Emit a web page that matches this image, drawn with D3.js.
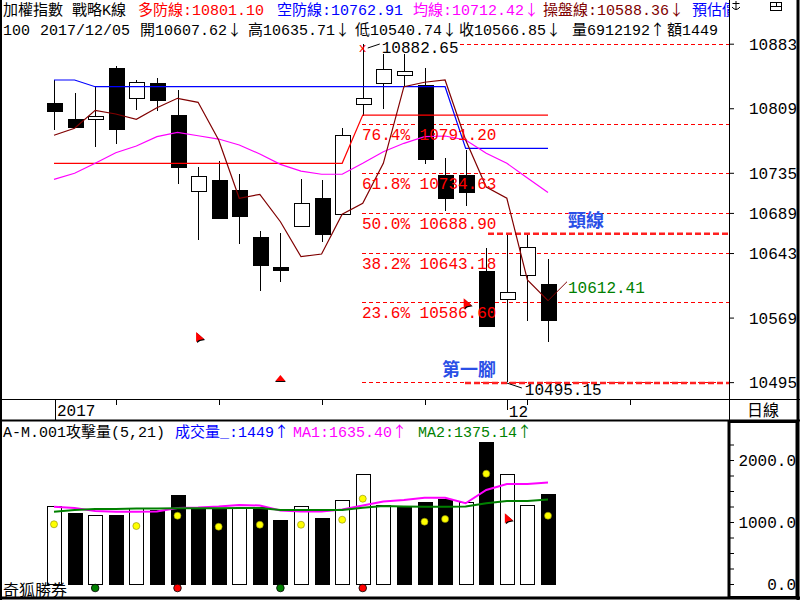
<!DOCTYPE html>
<html><head><meta charset="utf-8">
<script src="https://cdn.jsdelivr.net/npm/d3@7"></script>
<style>
body{margin:0;background:#fff}
svg{display:block}
text{font-family:"Liberation Mono","Noto Sans CJK TC",monospace;font-size:16px}
.hd{font-size:15px}
</style></head><body><div id="chart"></div>
<script>
// K bars, 2017/11/01 .. 2017/12/05
var opens =[10814.7,10796.7,10797.0,10855.1,10820.4,10837.6,10801.3,10713.8,10726.7,10715.3,10661.4,10627.3,10673.2,10705.8,10687.4,10814.7,10837.6,10847.9,10835.3,10732.8,10732.8,10622.8,10591.1,10617.8,10607.62]
var highs =[10841.4,10826.1,10833.7,10857.4,10841.4,10843.7,10829.9,10741.6,10748.5,10733.6,10668.3,10665.6,10727.9,10726.7,10786.4,10882.65,10871.2,10871.2,10854.8,10752.0,10761.1,10648.4,10663.7,10663.7,10635.71]
var lows  =[10784.1,10787.5,10764.9,10768.4,10807.3,10805.5,10721.8,10658.3,10683.5,10653.7,10599.8,10609.4,10673.2,10655.3,10687.4,10799.8,10808.5,10833.7,10745.4,10691.5,10697.3,10559.7,10495.15,10565.5,10540.74]
var closes=[10805.0,10787.8,10799.8,10785.5,10838.7,10817.6,10742.0,10731.0,10683.5,10685.8,10629.6,10624.3,10700.0,10664.0,10778.0,10821.1,10853.6,10852.0,10750.5,10706.9,10713.3,10559.7,10598.7,10649.6,10566.85]

var duoFang =[10745.9,10745.9,10745.9,10745.9,10745.9,10745.9,10745.9,10745.9,10745.9,10745.9,10745.9,10745.9,10745.9,10745.9,10745.9,10801.1,10801.1,10801.1,10801.1,10801.1,10801.1,10801.1,10801.1,10801.1,10801.1]
var kongFang=[10841.4,10841.4,10833.7,10833.7,10833.7,10833.7,10833.7,10833.7,10833.7,10833.7,10833.7,10833.7,10833.7,10833.7,10833.7,10833.7,10833.7,10833.7,10833.7,10833.7,10762.91,10762.91,10762.91,10762.91,10762.91]
var junXian =[10727.5,10734.4,10745.9,10758.0,10765.7,10776.4,10781.4,10777.5,10773.7,10766.9,10756.5,10744.7,10737.0,10733.3,10733.3,10745.9,10759.2,10768.8,10776.4,10777.2,10772.6,10757.4,10745.9,10729.0,10712.42]
var caoPan  =[10778.0,10786.0,10806.6,10802.4,10796.3,10809.6,10820.4,10815.8,10772.6,10705.8,10710.3,10678.9,10638.8,10641.9,10687.4,10700.0,10745.9,10833.7,10838.8,10841.4,10772.6,10718.7,10705.8,10612.1,10588.36]

var volumes=[1258,1150,1113,1118,1221,1194,1435,1221,1231,1221,1247,1032,1258,1065,1350,1769,1274,1247,1328,1371,1317,2295,1769,1274,1449]
var ma1=[1247,1226,1177,1166,1166,1169,1226,1234,1250,1274,1266,1185,1169,1169,1202,1266,1331,1355,1392,1392,1302,1516,1613,1613,1635.4]
var ma2=[1166,1194,1210,1210,1218,1218,1221,1221,1221,1226,1226,1194,1194,1194,1194,1231,1258,1250,1247,1247,1250,1302,1339,1339,1362]
var dots=[963,null,null,null,935,null,1102,null,924,null,956,null,956,null,1037,1376,null,null,1005,1048,null,1779,null,null,1102]
var signals=[{i:2,c:"#008000"},{i:6,c:"#ff0000"},{i:11,c:"#008000"},{i:15,c:"#ff0000"}]

var swingHigh=10882.65, swingLow=10495.15, neck=10665
var fibLevels=[0.764,0.618,0.5,0.382,0.236]
var priceTicks=[10883,10809,10735,10689,10643,10569,10495]
var volTicks=[0,1000,2000]
var dateTicks=[3,8,13,18,23,28]

var W=800,H=600,axX=729
var svg=d3.select("#chart").append("svg").attr("width",W).attr("height",H)
svg.append("rect").attr("width",W).attr("height",H).attr("fill","#fff")

var x=d3.scaleLinear().domain([0,24]).range([54,548])
var y=d3.scaleLinear().domain([swingLow,swingHigh]).range([382,44])
var yv=d3.scaleLinear().domain([0,2000]).range([584,460])
var idx=d3.range(opens.length)

var defs=svg.append("defs")
defs.append("clipPath").attr("id","mainClip").append("rect").attr("x",1).attr("y",0).attr("width",axX-1).attr("height",399)
defs.append("clipPath").attr("id","volClip").append("rect").attr("x",1).attr("y",421).attr("width",axX-3).attr("height",176)

// text with wide arrows (arrows drawn in the CJK font)
function label(g,tx,ty,str,col){
	var t=g.append("text").attr("class","hd").attr("x",tx).attr("y",ty).attr("fill",col)
	str.split(/([↑↓])/).forEach(function(s){
		if(!s) return
		var sp=t.append("tspan").text(s)
		if(s=="↑"||s=="↓") sp.style("font-family","Noto Sans CJK TC")
	})
	return t
}

// ---------- header ----------
var head=svg.append("g").attr("clip-path","url(#mainClip)")
var hdr1=[[3,"加權指數 戰略K線","#000"],[138,"多防線:10801.10","#ff0000"],[277,"空防線:10762.91","#0000ff"],[413,"均線:10712.42↓","#ff00ff"],[543,"操盤線:10588.36↓","#800000"],[692,"預估價","#0000ff"]]
var hdr2=[[3,"100"],[40,"2017/12/05"],[140,"開10607.62↓"],[248,"高10635.71↓"],[355,"低10540.74↓"],[459,"收10566.85↓"],[572,"量6912192↑"],[667,"額1449"]]
hdr1.forEach(function(d){ label(head,d[0],15,d[1],d[2]) })
hdr2.forEach(function(d){ label(head,d[0],35,d[1],"#000") })

var main=svg.append("g").attr("clip-path","url(#mainClip)")

// fib dashed levels
function fibPrice(f){ return Math.round((swingLow+f*(swingHigh-swingLow))*100+1e-6)/100 }
main.append("line").attr("x1",460).attr("x2",axX).attr("y1",Math.round(y(swingHigh))+0.5).attr("y2",Math.round(y(swingHigh))+0.5)
	.attr("stroke","#ff0000").attr("stroke-dasharray","4,3")
main.selectAll(".fib").data(fibLevels.concat([0])).enter().append("line")
	.attr("x1",362).attr("x2",axX)
	.attr("y1",function(f){return Math.round(y(fibPrice(f)))+0.5})
	.attr("y2",function(f){return Math.round(y(fibPrice(f)))+0.5})
	.attr("stroke","#ff0000").attr("stroke-dasharray","4,3")

// neckline and bottom thick dashes
main.append("line").attr("x1",488).attr("x2",axX).attr("y1",y(neck)).attr("y2",y(neck))
	.attr("stroke","#ff2020").attr("stroke-width",2.5).attr("stroke-dasharray","6,3")
main.append("line").attr("x1",465).attr("x2",axX).attr("y1",y(swingLow)+1).attr("y2",y(swingLow)+1)
	.attr("stroke","#ff2020").attr("stroke-width",2.5).attr("stroke-dasharray","6,3")

// candles
var kb=main.append("g").attr("shape-rendering","crispEdges")
kb.selectAll(".wick").data(idx).enter().append("line")
	.attr("x1",function(i){return Math.round(x(i))+0.5}).attr("x2",function(i){return Math.round(x(i))+0.5})
	.attr("y1",function(i){return y(highs[i])}).attr("y2",function(i){return y(lows[i])})
	.attr("stroke","#000")
kb.selectAll(".body").data(idx).enter().append("rect")
	.attr("x",function(i){return Math.round(x(i))-7+0.5})
	.attr("width",15)
	.attr("y",function(i){return Math.round(y(Math.max(opens[i],closes[i])))+0.5})
	.attr("height",function(i){return Math.max(3,Math.round(Math.abs(y(opens[i])-y(closes[i]))))})
	.attr("fill",function(i){return closes[i]>=opens[i]?"#fff":"#000"})
	.attr("stroke","#000")

// indicator lines
function priceLine(arr,col){
	main.append("path").datum(idx)
		.attr("d",d3.line().x(function(i){return x(i)}).y(function(i){return y(arr[i])}))
		.attr("fill","none").attr("stroke",col).attr("stroke-width",1.2)
}
function stepLine(arr,col){
	var pts=[]
	idx.forEach(function(i){
		if(i>0 && arr[i]!=arr[i-1]) pts.push([x(i-1),y(arr[i-1])])
		pts.push([x(i),y(arr[i])])
	})
	main.append("path").datum(pts).attr("d",d3.line())
		.attr("fill","none").attr("stroke",col).attr("stroke-width",1.2)
}
stepLine(duoFang,"#ff0000")
stepLine(kongFang,"#0000ff")
priceLine(junXian,"#ff00ff")
priceLine(caoPan,"#800000")

// fib labels
main.selectAll(".fibt").data(fibLevels).enter().append("text")
	.attr("x",362).attr("y",function(f){return y(fibPrice(f))+16})
	.attr("fill","#ff0000")
	.text(function(f){return (f*100).toFixed(1)+"% "+fibPrice(f).toFixed(2)})

// high / low marks
var hx=x(15)
main.append("text").attr("x",hx).attr("y",y(swingHigh)+8).attr("text-anchor","middle").attr("fill","#ff0000").style("font-size","13px").text("x")
main.append("line").attr("x1",hx+5).attr("y1",y(swingHigh)+4).attr("x2",hx+17).attr("y2",y(swingHigh)).attr("stroke","#000")
main.append("text").attr("x",hx+19).attr("y",y(swingHigh)+9).attr("fill","#000").text(swingHigh.toFixed(2))
var lx=x(22)
main.append("line").attr("x1",lx).attr("y1",y(swingLow)+1).attr("x2",lx+15).attr("y2",y(swingLow)+6).attr("stroke","#000")
main.append("text").attr("x",lx+18).attr("y",y(swingLow)+13).attr("fill","#000").text(swingLow.toFixed(2))
var ex=x(24)
main.append("line").attr("x1",ex).attr("y1",y(caoPan[24])).attr("x2",ex+19).attr("y2",y(10612.41)+2).attr("stroke","#800000")
main.append("text").attr("x",ex+20).attr("y",y(10612.41)+13).attr("fill","#008000").text("10612.41")

// notes
main.append("text").attr("x",568).attr("y",227).attr("fill","#2a4fe6").style("font-size","18px").style("font-weight","bold")
	.style("font-family","Noto Sans CJK TC").text("頸線")
main.append("text").attr("x",442).attr("y",376).attr("fill","#2a4fe6").style("font-size","18px").style("font-weight","bold")
	.style("font-family","Noto Sans CJK TC").text("第一腳")

// red cursor marks
function flag(g,px,py){
	g.append("path").attr("d","M"+(px+1)+","+(py+1)+" l0,10 l3,-2 l5,-1 Z").attr("fill","#000")
	g.append("path").attr("d","M"+px+","+py+" l0,10 l3,-2 l5,-1 Z").attr("fill","#ff0000")
}
flag(main,x(7)-2,y(10552.5))
flag(main,x(20)-2,y(10591.1))
var tx=x(11),ty=y(10503.2)
main.append("path").attr("d","M"+(tx-5)+","+(ty+6)+" l5,-6 l5,6 Z").attr("fill","#ff0000")
main.append("line").attr("x1",tx-5).attr("x2",tx+5).attr("y1",ty+6.5).attr("y2",ty+6.5).attr("stroke","#000")

// ---------- right price axis ----------
var ax=svg.append("g").attr("transform","translate("+axX+",0)")
	.call(d3.axisRight(y).tickValues(priceTicks).tickSize(5).tickFormat(d3.format("d")))
ax.select(".domain").remove()
ax.selectAll("text").attr("x",68).attr("dy","0.35em").style("text-anchor","end")
	.style("font-family","Liberation Mono").style("font-size","16px").attr("fill","#000")
ax.selectAll("line").attr("stroke","#000")

// frame lines
svg.append("line").attr("x1",axX+0.5).attr("x2",axX+0.5).attr("y1",0).attr("y2",420).attr("stroke","#000")
svg.append("line").attr("x1",0).attr("x2",W).attr("y1",399.5).attr("y2",399.5).attr("stroke","#000")
svg.append("line").attr("x1",0).attr("x2",W).attr("y1",420.5).attr("y2",420.5).attr("stroke","#000").attr("stroke-width",2)
svg.append("line").attr("x1",1).attr("x2",1).attr("y1",0).attr("y2",H).attr("stroke","#000").attr("stroke-width",2)
svg.append("line").attr("x1",798).attr("x2",798).attr("y1",0).attr("y2",H).attr("stroke","#000").attr("stroke-width",3)
svg.append("line").attr("x1",0).attr("x2",W).attr("y1",598).attr("y2",598).attr("stroke","#000").attr("stroke-width",3)

// top-right icons (anchor + small window box)
var ic=svg.append("g").attr("stroke","#000").attr("fill","none")
ic.append("path").attr("d","M736,1 v9 M732.5,3.5 h7 M732,7 q4,5 8,0")
ic.append("rect").attr("x",770.5).attr("y",2.5).attr("width",11).attr("height",8)
ic.append("path").attr("d","M770,6.5 h12 M776.5,2 v4")

// ---------- date strip ----------
var ds=svg.append("g").attr("shape-rendering","crispEdges")
ds.append("line").attr("x1",Math.round(x(0))+1.5).attr("x2",Math.round(x(0))+1.5).attr("y1",400).attr("y2",420).attr("stroke","#000")
ds.append("text").attr("x",x(0)+3).attr("y",416).text("2017")
ds.selectAll(".dt").data(dateTicks).enter().append("line")
	.attr("x1",function(i){return Math.round(x(i))+0.5}).attr("x2",function(i){return Math.round(x(i))+0.5})
	.attr("y1",400).attr("y2",405).attr("stroke","#000")
ds.append("line").attr("x1",Math.round(x(22))+0.5).attr("x2",Math.round(x(22))+0.5).attr("y1",400).attr("y2",410).attr("stroke","#000")
ds.append("text").attr("x",x(22)+2).attr("y",417).text("12")
svg.append("text").attr("x",763).attr("y",416).attr("text-anchor","middle").style("font-family","Noto Sans CJK TC").text("日線")

// ---------- volume panel ----------
var vol=svg.append("g").attr("clip-path","url(#volClip)")
var vh=[["A-M.001攻擊量(5,21)",3,"#000"],["成交量_:1449↑",175,"#0000ff"],["MA1:1635.40↑",293,"#ff00ff"],["MA2:1375.14↑",418,"#008000"]]
vh.forEach(function(d){ label(vol,d[1],437,d[0],d[2]) })

vol.selectAll(".vb").data(idx).enter().append("rect")
	.attr("shape-rendering","crispEdges")
	.attr("x",function(i){return Math.round(x(i))-7+0.5})
	.attr("width",14)
	.attr("y",function(i){return Math.round(yv(volumes[i]))+0.5})
	.attr("height",function(i){return Math.round(yv(0)-yv(volumes[i]))})
	.attr("fill",function(i){return (i==0||closes[i]>=closes[i-1])?"#fff":"#000"})
	.attr("stroke","#000")
function volLine(arr,col){
	vol.append("path").datum(idx)
		.attr("d",d3.line().x(function(i){return x(i)}).y(function(i){return yv(arr[i])}))
		.attr("fill","none").attr("stroke",col).attr("stroke-width",2)
}
volLine(ma1,"#ff00ff")
volLine(ma2,"#008000")
vol.selectAll(".dot").data(idx.filter(function(i){return dots[i]!=null})).enter().append("circle")
	.attr("cx",function(i){return x(i)}).attr("cy",function(i){return yv(dots[i])}).attr("r",3.5)
	.attr("fill","#ffff00").attr("stroke","#8a8a00").attr("stroke-width",0.6)
vol.selectAll(".sig").data(signals).enter().append("circle")
	.attr("cx",function(d){return x(d.i)}).attr("cy",588).attr("r",3.8)
	.attr("fill",function(d){return d.c}).attr("stroke","#000").attr("stroke-width",0.8)
flag(vol,x(22)-2,yv(1140))
vol.append("text").attr("x",3).attr("y",596).style("font-family","Noto Sans CJK TC").text("奇狐勝券")

// volume axis box
svg.append("rect").attr("x",axX).attr("y",421.5).attr("width",797-axX).attr("height",176).attr("fill","none").attr("stroke","#000").attr("stroke-width",3)
var vax=svg.append("g").attr("transform","translate("+(axX+1)+",0)")
	.call(d3.axisRight(yv).tickValues([0,250,500,750,1000,1250,1500,1750,2000,2250]).tickSize(4)
	.tickFormat(function(d){return volTicks.indexOf(d)>=0?d3.format(".1f")(d):""}))
vax.select(".domain").remove()
vax.selectAll("text").attr("x",66).attr("dy","0.35em").style("text-anchor","end")
	.style("font-family","Liberation Mono").style("font-size","16px").attr("fill","#000")
vax.selectAll("line").attr("stroke","#000")
</script></body></html>
